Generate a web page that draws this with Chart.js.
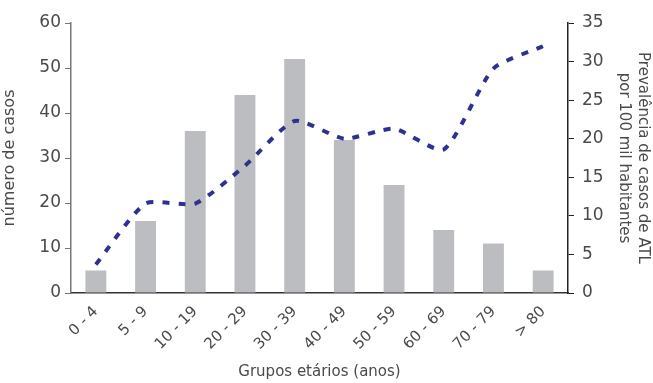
<!DOCTYPE html>
<html>
<head>
<meta charset="utf-8">
<script src="https://cdn.jsdelivr.net/npm/chart.js@4"></script>
<style>
  html, body { margin: 0; padding: 0; background: #fff; }
  #wrap { width: 653px; height: 383px; }
</style>
</head>
<body>
<div id="wrap"><canvas id="ageChart" width="653" height="383"></canvas></div>
<script>
const ageGroups = ['0 - 4', '5 - 9', '10 - 19', '20 - 29', '30 - 39', '40 - 49', '50 - 59', '60 - 69', '70 - 79', '> 80'];
const caseCounts = [5, 16, 36, 44, 52, 34, 24, 14, 11, 5];
const prevalence = [3.7, 11.6, 11.6, 16.5, 22.3, 20.0, 21.3, 18.6, 29.1, 32.0];

const fontFamily = "'DejaVu Sans', sans-serif";
const textColor = '#4a4a4c';

const ctxAge = document.getElementById('ageChart').getContext('2d');

new Chart(ctxAge, {
    data: {
        labels: ageGroups,
        datasets: [{
            type: 'line',
            label: 'Prevalência',
            data: prevalence,
            yAxisID: 'yRight',
            borderColor: '#2e3192',
            borderWidth: 4,
            borderDash: [7, 9],
            tension: 0.2,
            pointRadius: 0,
            fill: false,
            order: 0
        }, {
            type: 'bar',
            label: 'Casos',
            data: caseCounts,
            yAxisID: 'yLeft',
            backgroundColor: '#bcbdc0',
            categoryPercentage: 1,
            barPercentage: 0.42,
            order: 1
        }]
    },
    options: {
        responsive: false,
        animation: false,
        layout: {
            padding: { top: 23, left: 0, right: 0, bottom: 0 }
        },
        scales: {
            x: {
                grid: { display: false },
                border: { display: true, color: '#333', width: 1.5 },
                ticks: {
                    color: textColor,
                    font: { family: fontFamily, size: 15 },
                    minRotation: 45,
                    maxRotation: 45,
                    padding: 2
                },
                title: {
                    display: true,
                    text: 'Grupos etários (anos)',
                    color: textColor,
                    font: { family: fontFamily, size: 15 },
                    padding: { top: 0, bottom: 2 }
                },
                afterFit: (scale) => { scale.height = 90; }
            },
            yLeft: {
                position: 'left',
                min: 0,
                max: 60,
                ticks: {
                    stepSize: 10,
                    color: textColor,
                    font: { family: fontFamily, size: 17 },
                    padding: 4
                },
                grid: {
                    drawOnChartArea: false,
                    drawTicks: true,
                    tickLength: 6,
                    color: '#777'
                },
                border: { display: true, color: '#777', width: 1.5 },
                title: {
                    display: true,
                    text: 'número de casos',
                    color: textColor,
                    font: { family: fontFamily, size: 16 },
                    padding: { top: 0, bottom: 1 }
                },
                afterFit: (scale) => { scale.width = 71; }
            },
            yRight: {
                position: 'right',
                min: 0,
                max: 35,
                ticks: {
                    stepSize: 5,
                    color: textColor,
                    font: { family: fontFamily, size: 17 },
                    padding: 8
                },
                grid: {
                    drawOnChartArea: false,
                    drawTicks: true,
                    tickLength: 6,
                    color: '#222'
                },
                border: { display: true, color: '#222', width: 1.5 },
                title: {
                    display: true,
                    text: ['Prevalência de casos de ATL', 'por 100 mil habitantes'],
                    color: textColor,
                    font: { family: fontFamily, size: 15, lineHeight: 1.3 },
                    padding: { top: 0, bottom: 0 }
                },
                afterFit: (scale) => { scale.width = 85; }
            }
        },
        plugins: {
            legend: { display: false },
            tooltip: { enabled: false }
        }
    }
});
</script>
</body>
</html>
